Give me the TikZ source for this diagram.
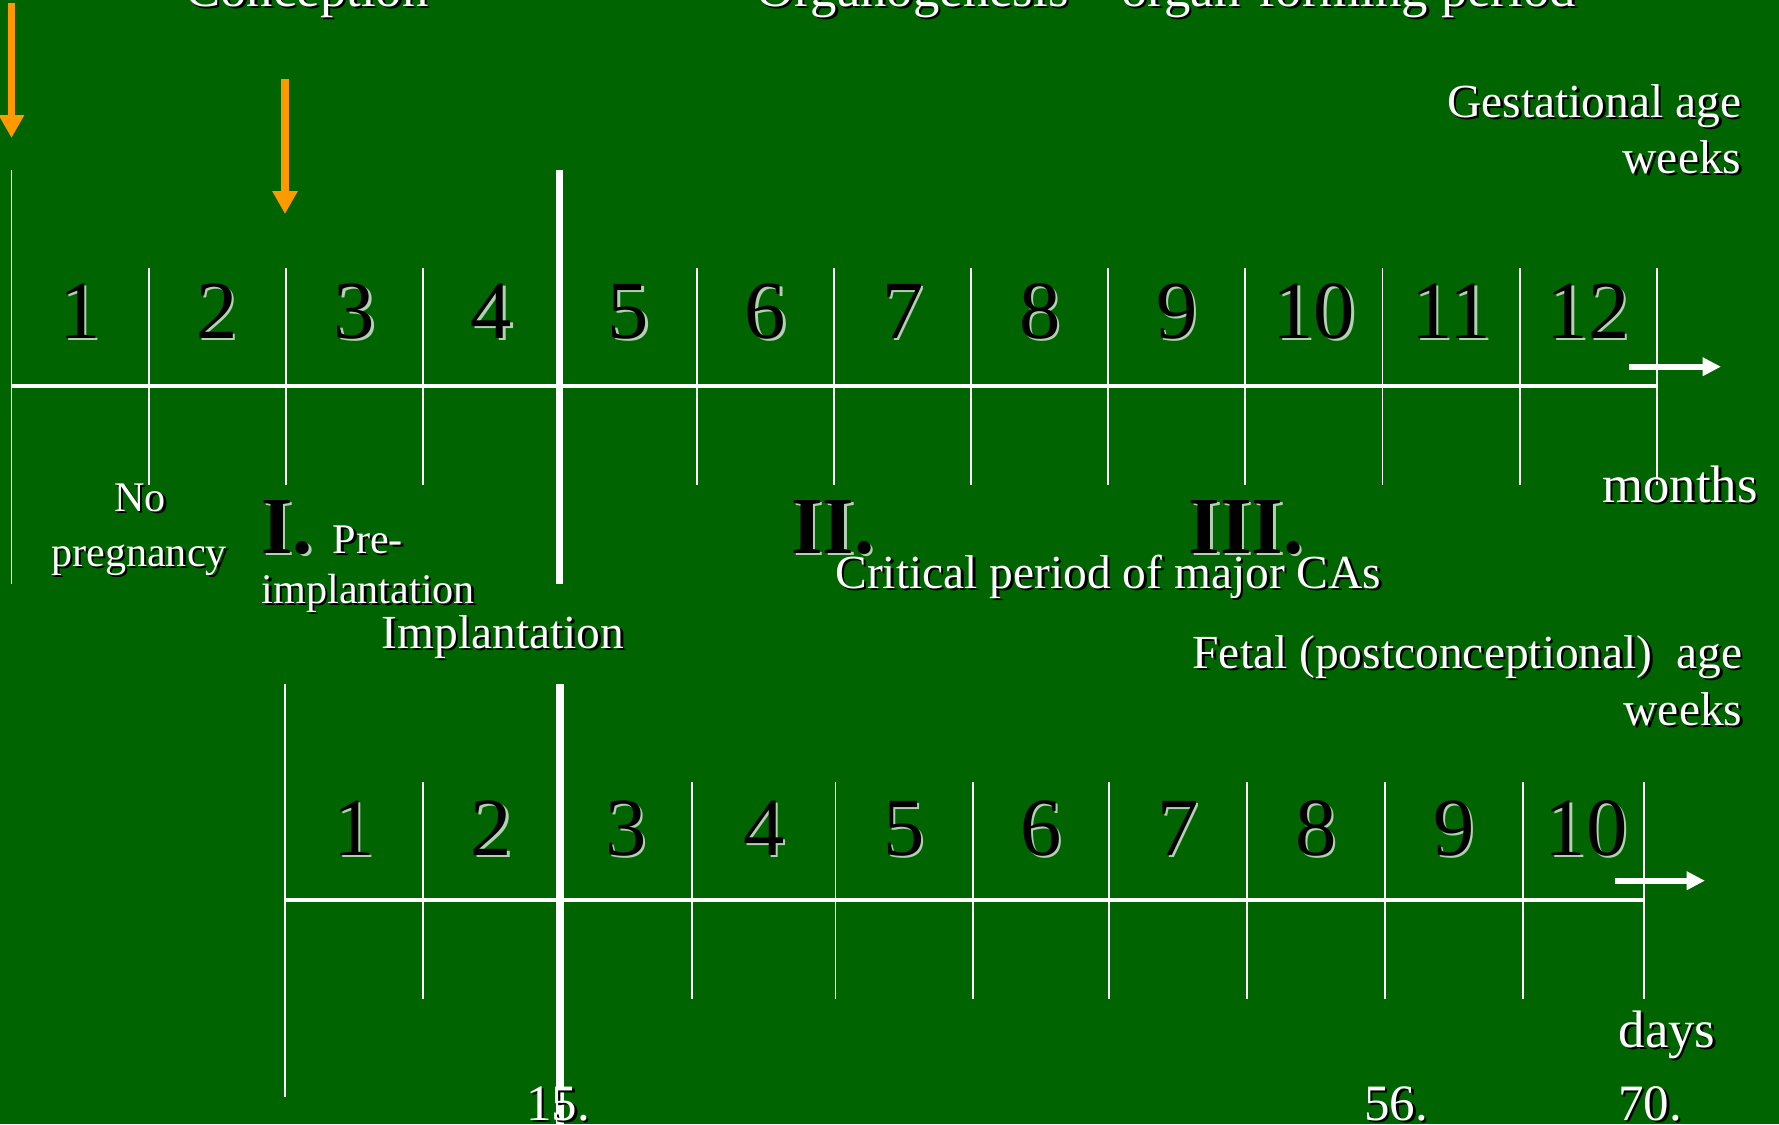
\documentclass[tikz,border=0pt]{standalone}
\definecolor{slidegreen}{RGB}{0, 100, 0}
\definecolor{conceptorange}{RGB}{255, 153, 0}
\colorlet{numshadow}{white!70!slidegreen}
\usepackage{fontspec}
\setmainfont{Liberation Serif}
\usetikzlibrary{arrows.meta}

% text with a small drop shadow: #1 shadow colour, #2 text
\newcommand{\shd}[2]{\makebox[0pt][l]{\kern0.7pt\raisebox{-0.7pt}{\textcolor{#1}{#2}}}#2}

\begin{document}
\begin{tikzpicture}[x=0.01cm, y=-0.01cm,
    tick/.style={white, line width=0.55pt},
    bigtick/.style={white, line width=2pt},
    axis/.style={white, line width=1pt},
    weekno/.style={inner sep=0pt, anchor=base, black, font=\fontsize{23.5}{26}\selectfont},
    stage/.style={inner sep=0pt, anchor=base, black, font=\fontsize{23}{26}\selectfont\bfseries},
    lbl/.style={inner sep=0pt, anchor=base, white, font=\fontsize{13.5}{16}\selectfont},
    smalllbl/.style={lbl, font=\fontsize{12}{14}\selectfont},
    biglbl/.style={lbl, font=\fontsize{15}{18}\selectfont},
    daylbl/.style={lbl, font=\fontsize{14.5}{17}\selectfont},
    timearrow/.style={white, line width=1.6pt, -{Triangle[length=5.2pt, width=5pt]}},
    conarrow/.style={conceptorange, line width=2.2pt, -{Triangle[length=6.5pt, width=6.8pt]}}]

    % Slide
    \fill[slidegreen] (0,0) rectangle (1779,1124);
    \useasboundingbox (0,0) rectangle (1779,1124);
    \clip (0,0) rectangle (1779,1124);

    % Titles, cut at the top
    \node[biglbl] (concep) at (307, 6) {\shd{black}{Conception}};
    \node[biglbl] (organo) at (1166, 6) {\shd{black}{Organogenesis – organ-forming period}};

    % Conception arrows
    \coordinate (lmptop) at (11.5, 3);
    \coordinate (lmptip) at (11.5, 138);
    \coordinate (conctop) at (285, 79);
    \coordinate (conctip) at (285, 214);
    \draw[conarrow] (lmptop) -- (lmptip);
    \draw[conarrow] (conctop) -- (conctip);

    % Gestational age scale
    \draw[tick] (11.5, 170) -- (11.5, 584);
    \draw[bigtick] (559.9, 170) -- (559.9, 584);
    \foreach \i in {1,2,3,5,6,...,12}{
      \draw[tick] ({11.5+137.1*\i}, 268) -- ({11.5+137.1*\i}, 485);
    }
    \coordinate (gstart) at (11.5, 386);
    \coordinate (gend) at (1656.7, 386);
    \draw[axis] (gstart) -- (gend);
    \foreach \i in {1,...,12}{
      \node[weekno] (gw\i) at ({11.5+137.1*(\i-0.5)}, 338) {\shd{numshadow}{\i}};
    }
    \coordinate (garrow) at (1629, 366.7);
    \coordinate (garrowtip) at (1721, 366.7);
    \draw[timearrow] (garrow) -- (garrowtip);

    \node[lbl, anchor=base east] (gestage) at (1742, 117) {\shd{black}{Gestational age}};
    \node[lbl, anchor=base east] (gestweeks) at (1742, 173) {\shd{black}{weeks}};
    \node[biglbl] (months) at (1680, 502) {\shd{black}{months}};

    % Stages
    \node[smalllbl] (nopreg) at (140, 511) {\shd{black}{No}};
    \node[smalllbl] (nopreg2) at (139, 566) {\shd{black}{pregnancy}};
    \node[stage] (stagei) at (287, 553) {\shd{numshadow}{I.}};
    \node[smalllbl, anchor=base west] (preimpl) at (332, 553) {\shd{black}{Pre-}};
    \node[smalllbl, anchor=base west] (preimpl2) at (261, 603) {\shd{black}{implantation}};
    \node[lbl] (impl) at (503, 648) {\shd{black}{Implantation}};
    \node[stage] (stageii) at (833, 553) {\shd{numshadow}{II.}};
    \node[stage] (stageiii) at (1246, 553) {\shd{numshadow}{III.}};
    \node[lbl, anchor=base east] (critical) at (1382, 588) {\shd{black}{Critical period of major CAs}};

    % Fetal age scale
    \draw[tick] (285, 684) -- (285, 1097);
    \draw[bigtick] (560, 684) -- (560, 1130);
    \foreach \x in {423, 692, 835.5, 973, 1109, 1247, 1385, 1523, 1644}{
      \draw[tick] (\x, 782) -- (\x, 999);
    }
    \coordinate (fstart) at (285, 900);
    \coordinate (fend) at (1644, 900);
    \draw[axis] (fstart) -- (fend);
    \foreach \x/\n in {354/1, 491.5/2, 626/3, 764/4, 904/5, 1041/6, 1178/7, 1316/8, 1454/9, 1586/10}{
      \node[weekno] (fw\n) at (\x, 855) {\shd{numshadow}{\n}};
    }
    \coordinate (farrow) at (1614.5, 880.7);
    \coordinate (farrowtip) at (1705, 880.7);
    \draw[timearrow] (farrow) -- (farrowtip);

    \node[lbl, anchor=base east] (fetalage) at (1743, 668) {\shd{black}{Fetal (postconceptional)\ \ age}};
    \node[lbl, anchor=base east] (fetalweeks) at (1743, 725) {\shd{black}{weeks}};
    \node[biglbl] (days) at (1667, 1047) {\shd{black}{days}};

    % Days
    \node[daylbl] (day15) at (558, 1120) {\shd{black}{15.}};
    \node[daylbl] (day56) at (1396, 1120) {\shd{black}{56.}};
    \node[daylbl] (day70) at (1650, 1120) {\shd{black}{70.}};
  \end{tikzpicture}
\end{document}
